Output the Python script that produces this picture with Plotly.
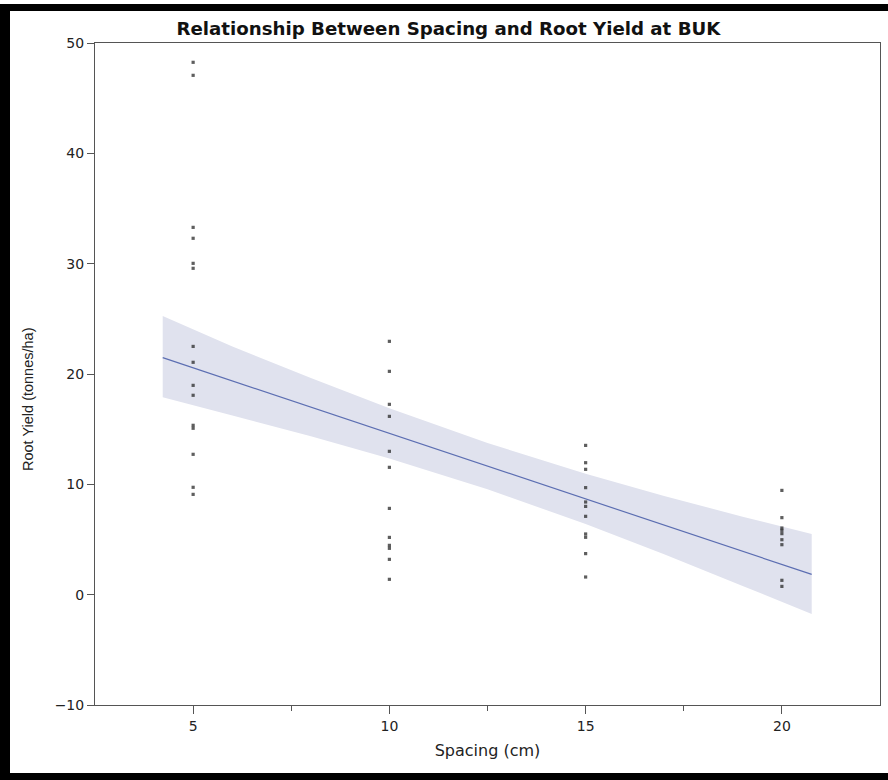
import plotly.graph_objects as go

# ---- data ----
spacing_levels = [5, 10, 15, 20]
yield_5 = [48.25, 47.07, 33.29, 32.30, 30.03, 29.58, 22.5, 21.06, 18.97, 18.07, 15.35, 15.08, 12.72, 9.73, 9.09]
yield_10 = [22.96, 20.24, 17.25, 16.16, 12.99, 11.54, 7.82, 5.19, 4.47, 4.2, 3.2, 1.39]
yield_15 = [13.53, 11.96, 11.36, 9.7, 8.4, 8.0, 7.1, 5.5, 5.2, 3.72, 1.6]
yield_20 = [9.45, 6.98, 6.04, 5.83, 5.53, 4.98, 4.53, 1.3, 0.75]

# fitted line and confidence band
fit_x = [4.225, 20.76]
fit_y = [21.48, 1.84]
band_x = [4.225, 6, 8, 10, 12.5, 15, 17, 19, 20.76]
band_lower = [17.9, 16.24, 14.35, 12.34, 9.56, 6.40, 3.66, 0.79, -1.75]
band_upper = [25.25, 22.50, 19.63, 16.90, 13.74, 10.96, 8.94, 7.07, 5.5]

x_ticks = [5, 10, 15, 20]
x_minor_ticks = [7.5, 12.5, 17.5]
y_ticks = [-10, 0, 10, 20, 30, 40, 50]

title_text = "Relationship Between Spacing and Root Yield at BUK"
x_title = "Spacing (cm)"
y_title = "Root Yield (tonnes/ha)"

groups = [yield_5, yield_10, yield_15, yield_20]
pts_x, pts_y = [], []
for s, ys in zip(spacing_levels, groups):
    pts_x += [s] * len(ys)
    pts_y += ys

fig = go.Figure()
fig.add_trace(go.Scatter(x=band_x + band_x[::-1], y=band_upper + band_lower[::-1],
                         fill="toself", fillcolor="rgb(224,226,238)",
                         line=dict(width=0), mode="lines", hoverinfo="skip",
                         showlegend=False))
fig.add_trace(go.Scatter(x=fit_x, y=fit_y, mode="lines",
                         line=dict(color="rgb(92,110,178)", width=1.2),
                         showlegend=False))
fig.add_trace(go.Scatter(x=pts_x, y=pts_y, mode="markers",
                         marker=dict(symbol="square", size=3.2, color="rgb(40,40,40)",
                                     opacity=0.75, line=dict(width=0)),
                         showlegend=False))

L, R, T, B = 95, 8, 43, 75
W, H = 888, 780
pw, ph = W - L - R, H - T - B

def px_x(p):
    return (p - L) / pw

def px_y(p):
    return (H - B - p) / ph

shapes = [
    dict(type="rect", xref="paper", yref="paper", x0=px_x(0), x1=px_x(10),
         y0=px_y(780), y1=px_y(4), fillcolor="black", line=dict(width=0)),
    dict(type="rect", xref="paper", yref="paper", x0=px_x(0), x1=px_x(888),
         y0=px_y(11), y1=px_y(4), fillcolor="black", line=dict(width=0)),
    dict(type="rect", xref="paper", yref="paper", x0=px_x(0), x1=px_x(888),
         y0=px_y(780), y1=px_y(773), fillcolor="black", line=dict(width=0)),
]

FONT = "DejaVu Sans, Liberation Sans, Arial, sans-serif"
fig.update_layout(
    width=W, height=H,
    margin=dict(l=L, r=R, t=T, b=B),
    paper_bgcolor="white", plot_bgcolor="white",
    font=dict(family=FONT, color="#222", size=14),
    title=dict(text="<b>" + title_text + "</b>", x=0.505, xref="container",
               xanchor="center", y=1 - 29 / H, yanchor="middle",
               font=dict(size=18.2, color="#111", family=FONT)),
    shapes=shapes,
    annotations=[dict(text=y_title, xref="paper", yref="paper",
                      x=px_x(28), y=px_y(400), xanchor="center", yanchor="middle",
                      textangle=-90, showarrow=False,
                      font=dict(family="Liberation Sans, Arial, sans-serif", size=14.5, color="#222"))],
    showlegend=False,
)
fig.update_xaxes(range=[2.5, 22.5], tickvals=x_ticks, ticks="outside", ticklen=8,
                 tickcolor="#555", showline=True, linecolor="#555", linewidth=1,
                 mirror=True, showgrid=False, zeroline=False,
                 minor=dict(tickvals=x_minor_ticks, ticks="outside", ticklen=5, tickcolor="#555"),
                 title=dict(text=x_title, font=dict(size=16), standoff=12),
                 tickfont=dict(size=14))
fig.update_yaxes(range=[-10, 50], tickvals=y_ticks, ticks="outside", ticklen=7,
                 tickcolor="#555", showline=True, linecolor="#555", linewidth=1,
                 mirror=True, showgrid=False, zeroline=False,
                 tickfont=dict(size=14))

fig.write_html("out.html", config={"displayModeBar": False},
               post_script="document.body.style.margin='0';document.body.style.overflow='hidden';")
